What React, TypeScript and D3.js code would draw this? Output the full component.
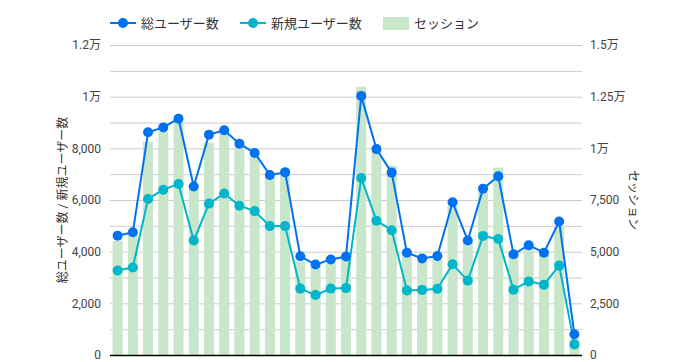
import React, { useEffect, useRef } from 'react';
import * as d3 from 'd3';

// 日別データ（31日分）
const days = d3.range(1, 32).map(d => String(d));
const totalUsers = [
  4620, 4750, 8620, 8810, 9150, 6520, 8530, 8700, 8180, 7820, 6970, 7070, 3820, 3500, 3700, 3810,
  10030, 7970, 7060, 3960, 3740, 3830, 5910, 4430, 6440, 6920, 3900, 4250, 3960, 5170, 800
];
const newUsers = [
  3270, 3390, 6040, 6400, 6620, 4430, 5860, 6250, 5780, 5570, 4990, 4990, 2570, 2320, 2570, 2590,
  6850, 5200, 4830, 2500, 2520, 2560, 3510, 2880, 4610, 4490, 2530, 2850, 2720, 3460, 410
];
const sessions = [
  5520, 5810, 10320, 10810, 11290, 8070, 10270, 10730, 10080, 9600, 8630, 9030, 4520, 4270, 4440, 4600,
  12980, 9840, 9150, 4760, 4520, 4600, 7210, 5480, 7900, 9070, 4840, 5160, 4840, 6210, 810
];
const leftTicks = [0, 2000, 4000, 6000, 8000, 10000, 12000];
const rightTicks = [0, 2500, 5000, 7500, 10000, 12500, 15000];

const seriesNames = ['総ユーザー数', '新規ユーザー数', 'セッション'];
const colors = { total: '#0072f0', fresh: '#00b6cb', sessions: '#c8e6c9' };

const fmt = (v: number) => {
  if (v >= 10000) return `${d3.format('~')(+(v / 10000).toFixed(2))}万`;
  return d3.format(',')(v);
};

const App: React.FC = () => {
  const svgRef = useRef<SVGSVGElement>(null);

  useEffect(() => {
    if (!svgRef.current) return;
    const width = 688;
    const height = 362;
    const svg = d3.select(svgRef.current);
    svg.selectAll('*').remove();

    const margin = { top: 45, right: 106, bottom: 7, left: 110 };
    const innerW = width - margin.left - margin.right;
    const innerH = height - margin.top - margin.bottom;
    const font = 'Roboto, "Noto Sans CJK JP", sans-serif';

    const x = d3.scaleBand<string>().domain(days).range([0, innerW]).paddingInner(0.34).paddingOuter(0.17);
    const yL = d3.scaleLinear().domain([0, 12000]).range([innerH, 0]);
    const yR = d3.scaleLinear().domain([0, 15000]).range([innerH, 0]);

    const g = svg.append('g').attr('transform', `translate(${margin.left},${margin.top})`);

    // grid lines (every 1000)
    g.append('g')
      .selectAll('line')
      .data(d3.range(1000, 12001, 1000))
      .join('line')
      .attr('x1', 0)
      .attr('x2', innerW)
      .attr('y1', d => yL(d) + 0.5)
      .attr('y2', d => yL(d) + 0.5)
      .attr('stroke', '#cccccc')
      .attr('stroke-width', 1);

    // left ticks
    g.append('g')
      .selectAll('text')
      .data(leftTicks)
      .join('text')
      .attr('x', -9)
      .attr('y', d => yL(d))
      .attr('dy', '0.35em')
      .attr('text-anchor', 'end')
      .attr('font-family', font)
      .attr('font-size', 12)
      .attr('fill', '#444')
      .text(d => fmt(d));

    // right ticks
    g.append('g')
      .selectAll('text')
      .data(rightTicks)
      .join('text')
      .attr('x', innerW + 8)
      .attr('y', d => yR(d))
      .attr('dy', '0.35em')
      .attr('text-anchor', 'start')
      .attr('font-family', font)
      .attr('font-size', 12)
      .attr('fill', '#444')
      .text(d => fmt(d));

    // axis titles
    svg.append('text')
      .attr('transform', `translate(67,${margin.top + innerH / 2}) rotate(-90)`)
      .attr('text-anchor', 'middle')
      .attr('font-family', font)
      .attr('font-size', 12)
      .attr('fill', '#333')
      .text('総ユーザー数 / 新規ユーザー数');
    svg.append('text')
      .attr('transform', `translate(629,${margin.top + innerH / 2}) rotate(90)`)
      .attr('text-anchor', 'middle')
      .attr('font-family', font)
      .attr('font-size', 12)
      .attr('fill', '#333')
      .text('セッション');

    // session bars
    g.append('g')
      .selectAll('rect')
      .data(sessions)
      .join('rect')
      .attr('x', (_, i) => x(days[i])!)
      .attr('width', x.bandwidth())
      .attr('y', d => yR(d))
      .attr('height', d => innerH - yR(d))
      .attr('fill', colors.sessions);

    // baseline
    g.append('line')
      .attr('x1', 0)
      .attr('x2', innerW)
      .attr('y1', innerH + 0.5)
      .attr('y2', innerH + 0.5)
      .attr('stroke', '#000')
      .attr('stroke-width', 1.5);

    const cx = (i: number) => x(days[i])! + x.bandwidth() / 2;
    const drawLine = (vals: number[], color: string) => {
      const line = d3.line<number>().x((_, i) => cx(i)).y(d => yL(d));
      g.append('path')
        .datum(vals)
        .attr('fill', 'none')
        .attr('stroke', color)
        .attr('stroke-width', 2)
        .attr('d', line);
      g.append('g')
        .selectAll('circle')
        .data(vals)
        .join('circle')
        .attr('cx', (_, i) => cx(i))
        .attr('cy', d => yL(d))
        .attr('r', 5)
        .attr('fill', color);
    };
    drawLine(newUsers, colors.fresh);
    drawLine(totalUsers, colors.total);

    // legend
    const legend = svg.append('g').attr('font-family', font).attr('font-size', 13).attr('fill', '#333');
    const items = [
      { x: 110, type: 'line', color: colors.total, label: seriesNames[0] },
      { x: 240, type: 'line', color: colors.fresh, label: seriesNames[1] },
      { x: 383, type: 'rect', color: colors.sessions, label: seriesNames[2] }
    ];
    items.forEach(it => {
      const lg = legend.append('g').attr('transform', `translate(${it.x},23)`);
      if (it.type === 'line') {
        lg.append('line').attr('x1', 0).attr('x2', 26).attr('stroke', it.color).attr('stroke-width', 2);
        lg.append('circle').attr('cx', 13).attr('r', 5).attr('fill', it.color);
      } else {
        lg.append('rect').attr('x', 0).attr('y', -6).attr('width', 26).attr('height', 13).attr('fill', it.color);
      }
      lg.append('text').attr('x', 31).attr('dy', '0.35em').text(it.label);
    });
  }, []);

  return (
    <svg
      ref={svgRef}
      width={688}
      height={362}
      style={{ position: 'absolute', left: 0, top: 0, background: '#fff' }}
    />
  );
};

export default App;
